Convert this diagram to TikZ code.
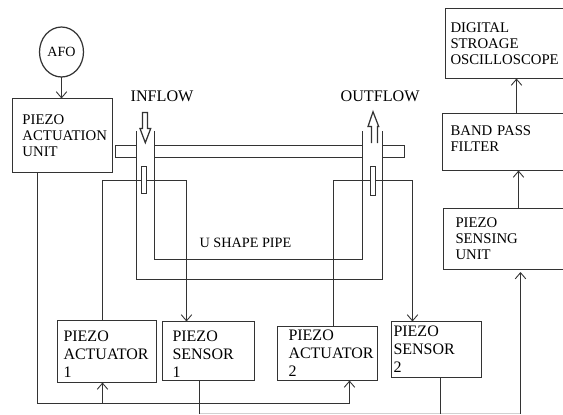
\documentclass[tikz,border=0pt]{standalone}
\usepackage{fontspec}
\setmainfont{Liberation Serif}
\usetikzlibrary{arrows.meta,calc,positioning,shapes.geometric}

\begin{document}
\begin{tikzpicture}[
  x=0.02cm, y=-0.02cm,
  line width=0.7pt, draw=black!80,
  blk/.style={draw=black!80, fill=white, outer sep=0pt, inner ysep=0pt, align=left},
  bigtxt/.style={font=\fontsize{9.1}{10.3}\selectfont},
  smalltxt/.style={font=\fontsize{8.4}{9.2}\selectfont},
  arr/.style={-{Straight Barb[length=3.5pt,width=6pt,line width=0.5pt]}},
  lbl/.style={inner sep=0pt, font=\fontsize{9.2}{10}\selectfont},
]
% ---- box macro: #1 id #2 x1 #3 y1 #4 x2 #5 y2 #6 text indent #7 style #8 text ----
\newcommand{\blkbox}[8]{%
  \pgfmathsetmacro{\ww}{(#4-#2)*0.02}\pgfmathsetmacro{\hh}{(#5-#3)*0.02}%
  \pgfmathsetmacro{\dd}{#6*0.02}\pgfmathsetmacro{\tw}{(#4-#2-2*#6)*0.02}%
  \node[blk,#7,minimum width=\ww cm,minimum height=\hh cm,inner xsep=\dd cm,text width=\tw cm]
    (#1) at ({(#2+#4)/2},{(#3+#5)/2}) {#8};%
}
\clip (0,0) rectangle (563,414);

% ---- blocks ----
\node[ellipse,draw,minimum width=0.88cm,minimum height=1cm,inner sep=0pt,outer sep=0pt,
      font=\fontsize{8}{10}\selectfont] (afo) at (61.5,52) {AFO};
\blkbox{pau}{12.5}{98.5}{112.5}{172.5}{10}{smalltxt}{PIEZO\\ACTUATION\\UNIT}
\blkbox{act1}{57.5}{320.5}{156.5}{382.5}{6}{bigtxt}{\rule{0pt}{9.4pt}PIEZO\\ACTUATOR\\1}
\blkbox{sen1}{162.5}{321.5}{254.5}{380.5}{10}{bigtxt}{\rule{0pt}{9.4pt}PIEZO\\SENSOR\\1}
\blkbox{act2}{277.5}{326.5}{377.5}{380.5}{11}{bigtxt}{PIEZO\\ACTUATOR\\2}
\blkbox{sen2}{391.5}{321.5}{481.5}{377.5}{2}{bigtxt}{PIEZO\\SENSOR\\2}
\blkbox{psu}{443.5}{208.5}{570.5}{269.5}{12}{smalltxt}{PIEZO\\SENSING\\UNIT}
\blkbox{bpf}{442.5}{113.5}{570.5}{170.5}{8}{smalltxt}{BAND PASS\\FILTER\rule[-4.3pt]{0pt}{0pt}}
\blkbox{dso}{445.5}{8.5}{570.5}{78.5}{5}{smalltxt}{DIGITAL\\STROAGE\\OSCILLOSCOPE}

% ---- pipe ----
\draw (136.5,157.5) -- (115.5,157.5) -- (115.5,145.5) -- (136.5,145.5);
\draw (154.5,145.5) -- (362.5,145.5) (154.5,157.5) -- (362.5,157.5);
\draw (382.5,145.5) -- (404.5,145.5) -- (404.5,157.5) -- (382.5,157.5);
\draw (136.5,131) -- (136.5,279.5) -- (382.5,279.5) -- (382.5,131);
\draw (154.5,131) -- (154.5,259.5) -- (362.5,259.5) -- (362.5,131);

% ---- flow arrows ----
\draw (142.5,112.5) -- (147.5,112.5) -- (147.5,128.5) -- (150.7,128.5) -- (145.3,142.7) -- (140,128.5) -- (142.5,128.5) -- cycle;
\draw (371.5,143) -- (371.5,126.5) -- (368,126.5) -- (373,111.7) -- (378.7,126.5) -- (377.5,126.5) -- (377.5,143);

% ---- wiring ----
\coordinate (busl) at (37.5,403.5);
\coordinate (busa) at (102.5,403.5);
\coordinate (busb) at (349.5,403.5);
\coordinate (taps) at (102.5,180.5);
\coordinate (tape) at (186.5,180.5);
\coordinate (tbps) at (333.5,180.5);
\coordinate (tbpe) at (412.5,180.5);
\coordinate (retl) at (199.5,413.5);
\coordinate (retm) at (440.5,413.5);
\coordinate (retr) at (520.5,413.5);
\coordinate (psuin) at (520.5,272);
\coordinate (bpfin) at (518.5,208.5);
\coordinate (dsoin) at (516.5,113.5);

\draw[arr] (afo.south) -- (pau.north -| afo.south);
\draw[arr] (busl |- pau.south) -- (busl) -- (busb) -- (act2.south -| busb);
\draw[arr] (busa) -- (act1.south -| busa);
\draw[arr] (act1.north -| taps) -- (taps) -- (tape) -- (sen1.north -| tape);
\draw[arr] (act2.north -| tbps) -- (tbps) -- (tbpe) -- (sen2.north -| tbpe);
\draw[black!18] (retl) -- (retr);
\draw (sen1.south -| retl) -- (retl);
\draw (sen2.south -| retm) -- (retm);
\draw[arr] (retr) -- (psuin);
\draw[arr] (bpfin) -- (bpf.south -| bpfin);
\draw[arr] (dsoin) -- (dso.south -| dsoin);

% ---- transducer rings ----
\draw[fill=white] (141.5,166.5) rectangle (146.5,193.5);
\draw[fill=white] (370.5,166.5) rectangle (375.5,195.5);

% ---- labels ----
\node[lbl,anchor=west] (inflow) at (130,96) {INFLOW};
\node[lbl,anchor=west] (outflow) at (340,96.5) {OUTFLOW};
\node[lbl,anchor=west,font=\fontsize{8.1}{10}\selectfont] (ushape) at (199,243) {U SHAPE PIPE};
\end{tikzpicture}
\end{document}
